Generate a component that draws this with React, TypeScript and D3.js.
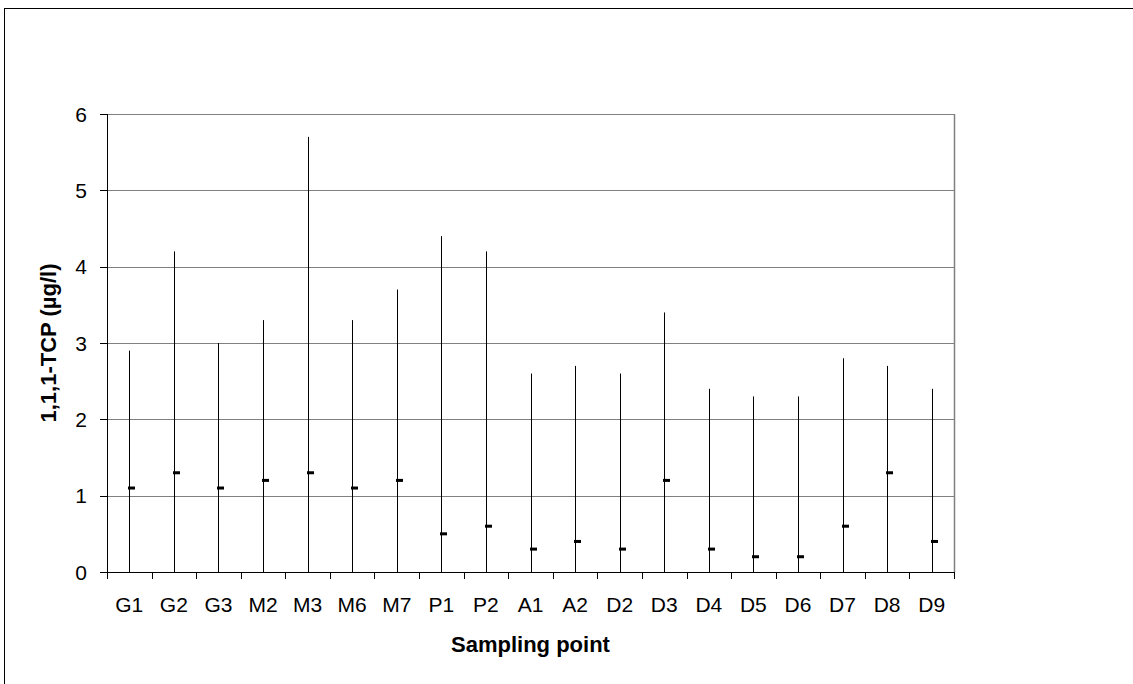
import React from "react";
import * as d3 from "d3";

const categories = ["G1","G2","G3","M2","M3","M6","M7","P1","P2","A1","A2","D2","D3","D4","D5","D6","D7","D8","D9"];
const highValues = [2.9,4.2,3.0,3.3,5.7,3.3,3.7,4.4,4.2,2.6,2.7,2.6,3.4,2.4,2.3,2.3,2.8,2.7,2.4];
const lowValues = [0,0,0,0,0,0,0,0,0,0,0,0,0,0,0,0,0,0,0];
const meanValues = [1.1,1.3,1.1,1.2,1.3,1.1,1.2,0.5,0.6,0.3,0.4,0.3,1.2,0.3,0.2,0.2,0.6,1.3,0.4];
const yTicks = [0,1,2,3,4,5,6];

export default function App() {
  const W = 1133, H = 684;
  const left = 107, right = 954, top = 114, bottom = 572;
  const x = d3.scaleBand<string>().domain(categories).range([left, right]).padding(0);
  const y = d3.scaleLinear().domain([0, 6]).range([bottom, top]);
  const font = "Arial, 'Liberation Sans', sans-serif";
  const bw = x.bandwidth();
  return (
    <svg width={W} height={H} style={{ position: "absolute", left: 0, top: 0 }}>
      <rect x={0} y={0} width={W} height={H} fill="#fff" />
      <rect x={4.5} y={8.5} width={W + 10} height={H + 10} fill="none" stroke="#000" strokeWidth={1} />
      {/* gridlines */}
      {yTicks.filter(t => t > 0).map(t => (
        <line key={t} x1={left} x2={right} y1={Math.round(y(t)) + 0.5} y2={Math.round(y(t)) + 0.5} stroke="#808080" strokeWidth={1} />
      ))}
      <line x1={right + 0.5} x2={right + 0.5} y1={top} y2={bottom} stroke="#808080" strokeWidth={1.5} />
      {/* y axis */}
      <line x1={left + 0.5} x2={left + 0.5} y1={top} y2={bottom} stroke="#000" strokeWidth={1} />
      {yTicks.map(t => (
        <g key={t}>
          <line x1={left - 7} x2={left} y1={Math.round(y(t)) + 0.5} y2={Math.round(y(t)) + 0.5} stroke="#000" />
          <text x={87} y={y(t) + 7.5} textAnchor="end" fontFamily={font} fontSize={21} fill="#000">{t}</text>
        </g>
      ))}
      {/* x axis */}
      <line x1={left} x2={right + 1} y1={bottom + 0.5} y2={bottom + 0.5} stroke="#000" />
      {categories.map(c => (
        <line key={"t" + c} x1={Math.round(x(c)!) + 0.5} x2={Math.round(x(c)!) + 0.5} y1={bottom} y2={bottom + 7} stroke="#000" />
      ))}
      <line x1={right + 0.5} x2={right + 0.5} y1={bottom} y2={bottom + 7} stroke="#000" />
      {categories.map(c => (
        <text key={"l" + c} x={x(c)! + bw / 2} y={612} textAnchor="middle" fontFamily={font} fontSize={21} fill="#000">{c}</text>
      ))}
      {/* high-low lines and mean marks */}
      {categories.map((c, i) => {
        const cx = Math.round(x(c)! + bw / 2) + 0.5;
        return (
          <g key={"d" + c}>
            <line x1={cx} x2={cx} y1={y(lowValues[i])} y2={y(highValues[i])} stroke="#000" strokeWidth={1} />
            <rect x={cx - 1.5} y={y(meanValues[i]) - 1.5} width={7} height={3} fill="#000" />
          </g>
        );
      })}
      <text x={(left + right) / 2} y={652} textAnchor="middle" fontFamily={font} fontSize={22} fontWeight="bold" fill="#000">Sampling point</text>
      <text transform={`translate(56, ${(top + bottom) / 2}) rotate(-90)`} textAnchor="middle" fontFamily={font} fontSize={22} fontWeight="bold" fill="#000">1,1,1-TCP (µg/l)</text>
    </svg>
  );
}
